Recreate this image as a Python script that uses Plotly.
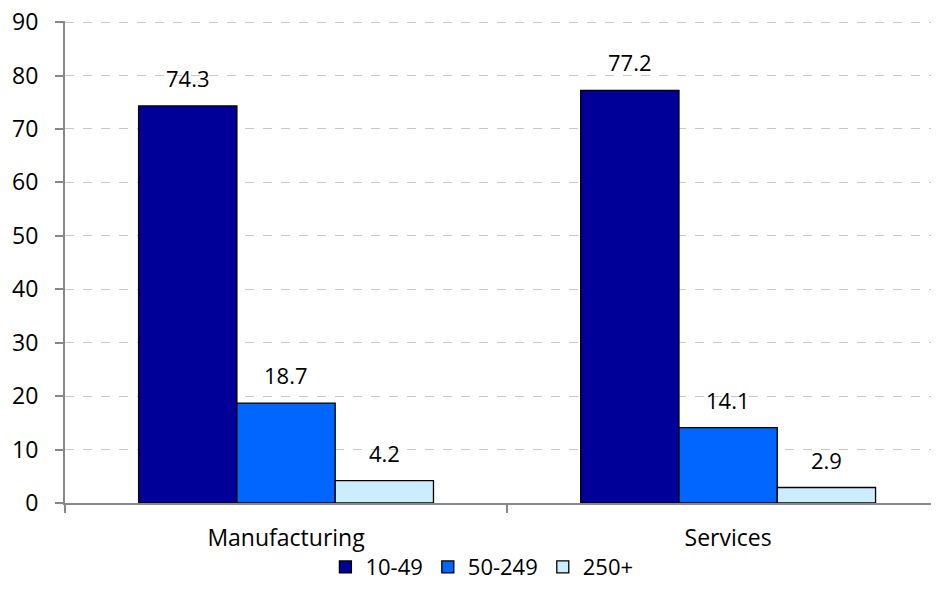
import plotly.graph_objects as go

categories = ["Manufacturing", "Services"]
series_names = ["10-49", "50-249", "250+"]
series_values = {
    "10-49": [74.3, 77.2],
    "50-249": [18.7, 14.1],
    "250+": [4.2, 2.9],
}
colors = ["#000099", "#0066FF", "#CCECFF"]
y_ticks = [0, 10, 20, 30, 40, 50, 60, 70, 80, 90]

FONT = "Open Sans"
FS = 23
# page body has an 8px default margin, so the figure is shifted by 8px
W, H = 931, 598
ml, mr, mt, mb = 57, 0, 13, 103
bargap = 0.333
x_range = [-0.5, 1.477]

fig = go.Figure()
for name, col in zip(series_names, colors):
    fig.add_trace(go.Bar(
        name=name, x=categories, y=series_values[name],
        marker=dict(color=col, line=dict(color="#000000", width=1.3)),
    ))

# data labels positioned from the bar geometry
plot_w = W - ml - mr
cat_px = plot_w / (x_range[1] - x_range[0])
bar_px = cat_px * (1 - bargap) / len(series_names)
for i, name in enumerate(series_names):
    for c, v in zip(categories, series_values[name]):
        fig.add_annotation(
            x=c, y=v, text=f"{v:.1f}", showarrow=False,
            xshift=(i - (len(series_names) - 1) / 2) * bar_px,
            yshift=28, yanchor="middle",
            font=dict(family=FONT, size=FS - 1, color="#000000"),
        )

fig.update_layout(
    width=W, height=H,
    margin=dict(l=ml, r=mr, t=mt, b=mb, autoexpand=False),
    paper_bgcolor="white", plot_bgcolor="white",
    barmode="group", bargap=bargap, bargroupgap=0,
    font=dict(family=FONT, size=FS, color="#000000"),
    legend=dict(orientation="h", x=0.477, xanchor="center", y=-0.133, yanchor="middle",
                font=dict(family=FONT, size=FS - 1), itemwidth=30, traceorder="normal",
                bgcolor="rgba(0,0,0,0)"),
    showlegend=True,
)
fig.update_xaxes(
    range=x_range, showline=True, linecolor="#888888", linewidth=2,
    ticks="outside", tickson="boundaries", ticklen=8, tickcolor="#888888", tickwidth=2,
    showgrid=False, tickfont=dict(family=FONT, size=FS), ticklabelstandoff=13,
    automargin=False,
)
fig.update_yaxes(
    range=[0, 90.2], tickvals=y_ticks, showline=True, linecolor="#888888", linewidth=2,
    ticks="outside", ticklen=8, tickcolor="#888888", tickwidth=2,
    showgrid=True, gridcolor="#C8C8C8", griddash="dash", gridwidth=1,
    zeroline=False, tickfont=dict(family=FONT, size=FS), ticklabelstandoff=12,
    ticklabeloverflow="allow", automargin=False,
)

fig.write_html("out.html")
